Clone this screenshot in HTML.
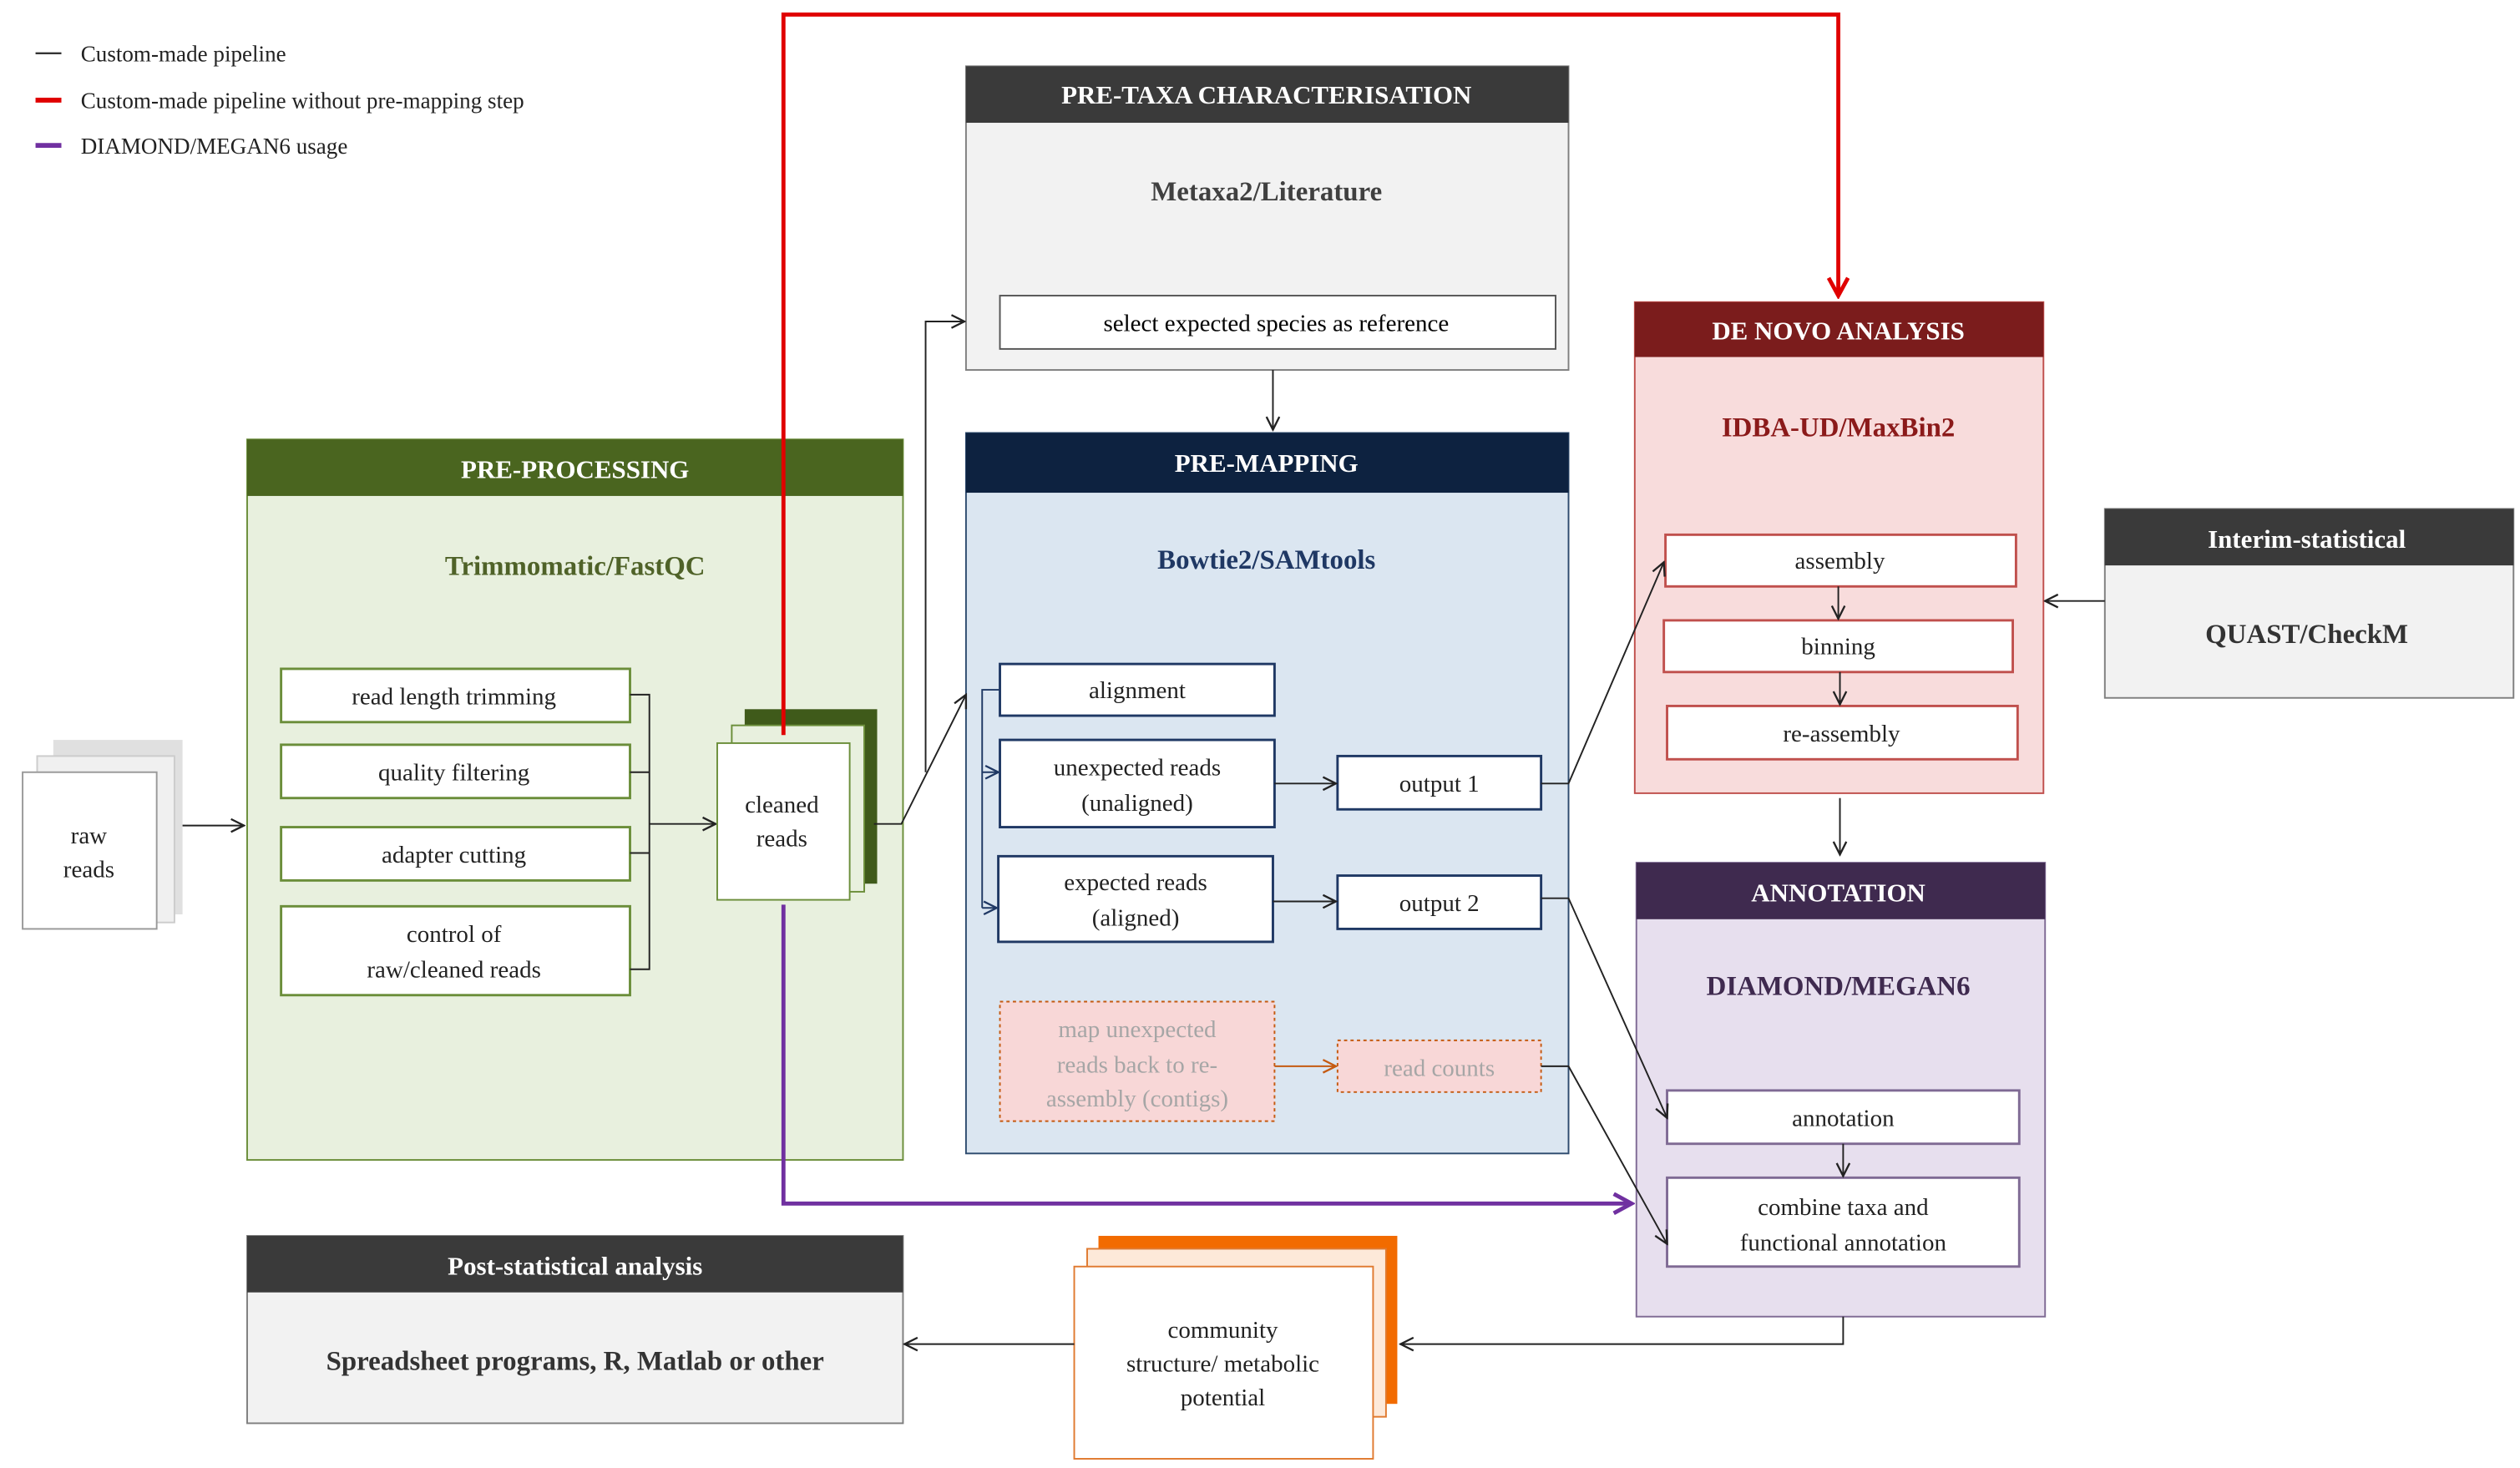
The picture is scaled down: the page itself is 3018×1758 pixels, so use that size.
<!DOCTYPE html>
<html><head><meta charset="utf-8"><style>html,body{margin:0;padding:0;background:#fff}svg{display:block}</style></head><body>
<svg width="3018" height="1758" viewBox="0 0 1560 908.7" preserveAspectRatio="none" xmlns="http://www.w3.org/2000/svg" font-family="Liberation Serif, serif">
<defs>
<marker id="a" markerWidth="10" markerHeight="10" refX="9" refY="5" orient="auto" markerUnits="userSpaceOnUse"><path d="M1,1 L9,5 L1,9" fill="none" stroke="#222" stroke-width="1.2"/></marker>
<marker id="an" markerWidth="10" markerHeight="10" refX="9" refY="5" orient="auto" markerUnits="userSpaceOnUse"><path d="M1,1 L9,5 L1,9" fill="none" stroke="#1f3864" stroke-width="1.2"/></marker>
<marker id="ao" markerWidth="10" markerHeight="10" refX="9" refY="5" orient="auto" markerUnits="userSpaceOnUse"><path d="M1,1 L9,5 L1,9" fill="none" stroke="#c55a11" stroke-width="1.2"/></marker>
<marker id="ar" markerWidth="14" markerHeight="14" refX="12" refY="7" orient="auto" markerUnits="userSpaceOnUse"><path d="M1,1 L12,7 L1,13" fill="none" stroke="#e00000" stroke-width="2.5"/></marker>
<marker id="ap" markerWidth="14" markerHeight="14" refX="12" refY="7" orient="auto" markerUnits="userSpaceOnUse"><path d="M1,1 L12,7 L1,13" fill="none" stroke="#7030a0" stroke-width="2.5"/></marker>
</defs>
<g font-size="14" fill="#222">
<line x1="22" y1="33" x2="38" y2="33" stroke="#333" stroke-width="1.2"/><text x="50" y="38">Custom-made  pipeline</text>
<line x1="22" y1="62" x2="38" y2="62" stroke="#e00000" stroke-width="3"/><text x="50" y="67">Custom-made  pipeline without pre-mapping  step</text>
<line x1="22" y1="90" x2="38" y2="90" stroke="#7030a0" stroke-width="3"/><text x="50" y="95">DIAMOND/MEGAN6  usage</text>
</g>
<g text-anchor="middle">
<rect x="598" y="41" width="373" height="188" fill="#f2f2f2" stroke="#7f7f7f"/>
<rect x="598" y="41" width="373" height="35" fill="#3a3a3a"/>
<text x="784" y="64" fill="#fff" font-weight="bold" font-size="16">PRE-TAXA CHARACTERISATION</text>
<text x="784" y="124" fill="#404040" font-weight="bold" font-size="17">Metaxa2/Literature</text>
<rect x="619" y="183" width="344" height="33" fill="#fff" stroke="#555"/>
<text x="790" y="205" font-size="15">select expected species as reference</text>
<line x1="788" y1="229" x2="788" y2="266" stroke="#222" marker-end="url(#a)"/>
<rect x="598" y="268" width="373" height="446" fill="#dbe6f1" stroke="#2e4b6e"/>
<rect x="598" y="268" width="373" height="37" fill="#0d2240"/>
<text x="784" y="292" fill="#fff" font-weight="bold" font-size="16">PRE-MAPPING</text>
<text x="784" y="352" fill="#1f3864" font-weight="bold" font-size="17">Bowtie2/SAMtools</text>
<g fill="#fff" stroke="#1f3864" stroke-width="1.5">
<rect x="619" y="411" width="170" height="32"/><rect x="619" y="458" width="170" height="54"/><rect x="618" y="530" width="170" height="53"/>
<rect x="828" y="468" width="126" height="33"/><rect x="828" y="542" width="126" height="33"/>
</g>
<g font-size="15" fill="#222">
<text x="704" y="432">alignment</text>
<text x="704" y="480">unexpected reads</text><text x="704" y="502">(unaligned)</text>
<text x="703" y="551">expected reads</text><text x="703" y="573">(aligned)</text>
<text x="891" y="490">output 1</text><text x="891" y="564">output 2</text>
</g>
<rect x="619" y="620" width="170" height="74" fill="#f8d7d7" stroke="#c55a11" stroke-dasharray="2,2"/>
<rect x="828" y="644" width="126" height="32" fill="#f8d7d7" stroke="#c55a11" stroke-dasharray="2,2"/>
<g font-size="15" fill="#a6a6a6">
<text x="704" y="642">map unexpected</text><text x="704" y="664">reads back to re-</text><text x="704" y="685">assembly (contigs)</text>
<text x="891" y="666">read counts</text>
</g>
<path d="M619,427 H608 V562" fill="none" stroke="#1f3864"/>
<line x1="608" y1="478" x2="618" y2="478" stroke="#1f3864" marker-end="url(#an)"/>
<line x1="608" y1="562" x2="617" y2="562" stroke="#1f3864" marker-end="url(#an)"/>
<line x1="789" y1="485" x2="827" y2="485" stroke="#222" marker-end="url(#a)"/>
<line x1="788" y1="558" x2="827" y2="558" stroke="#222" marker-end="url(#a)"/>
<line x1="789" y1="660" x2="827" y2="660" stroke="#c55a11" marker-end="url(#ao)"/>
<rect x="1012" y="187" width="253" height="304" fill="#f8dcdc" stroke="#c0504d"/>
<rect x="1012" y="187" width="253" height="34" fill="#7b1c1c"/>
<text x="1138" y="210" fill="#fff" font-weight="bold" font-size="16">DE NOVO ANALYSIS</text>
<text x="1138" y="270" fill="#8b1a1a" font-weight="bold" font-size="17">IDBA-UD/MaxBin2</text>
<g fill="#fff" stroke="#c0504d" stroke-width="1.5">
<rect x="1031" y="331" width="217" height="32"/><rect x="1030" y="384" width="216" height="32"/><rect x="1032" y="437" width="217" height="33"/>
</g>
<g font-size="15" fill="#222"><text x="1139" y="352">assembly</text><text x="1138" y="405">binning</text><text x="1140" y="459">re-assembly</text></g>
<line x1="1138" y1="363" x2="1138" y2="383" stroke="#222" marker-end="url(#a)"/>
<line x1="1139" y1="416" x2="1139" y2="436" stroke="#222" marker-end="url(#a)"/>
<rect x="1303" y="315" width="253" height="117" fill="#f2f2f2" stroke="#7f7f7f"/>
<rect x="1303" y="315" width="253" height="35" fill="#3a3a3a"/>
<text x="1428" y="339" fill="#fff" font-weight="bold" font-size="16">Interim-statistical</text>
<text x="1428" y="398" fill="#333" font-weight="bold" font-size="17">QUAST/CheckM</text>
<line x1="1303" y1="372" x2="1266" y2="372" stroke="#222" marker-end="url(#a)"/>
<line x1="1139" y1="494" x2="1139" y2="529" stroke="#222" marker-end="url(#a)"/>
<rect x="1013" y="534" width="253" height="281" fill="#e7dfee" stroke="#7f6a94"/>
<rect x="1013" y="534" width="253" height="35" fill="#3f2a4f"/>
<text x="1138" y="558" fill="#fff" font-weight="bold" font-size="16">ANNOTATION</text>
<text x="1138" y="616" fill="#3f2a4f" font-weight="bold" font-size="17">DIAMOND/MEGAN6</text>
<g fill="#fff" stroke="#7f6a94" stroke-width="1.5"><rect x="1032" y="675" width="218" height="33"/><rect x="1032" y="729" width="218" height="55"/></g>
<g font-size="15" fill="#222"><text x="1141" y="697">annotation</text><text x="1141" y="752">combine taxa and</text><text x="1141" y="774">functional annotation</text></g>
<line x1="1141" y1="708" x2="1141" y2="728" stroke="#222" marker-end="url(#a)"/>
<path d="M954,485 H971 L1030,348" fill="none" stroke="#222" marker-end="url(#a)"/>
<path d="M954,556 H971 L1032,692" fill="none" stroke="#222" marker-end="url(#a)"/>
<path d="M954,660 H971 L1032,770" fill="none" stroke="#222" marker-end="url(#a)"/>
<rect x="153" y="272" width="406" height="446" fill="#e8f0de" stroke="#6b8e3a"/>
<rect x="153" y="272" width="406" height="35" fill="#4a651f"/>
<text x="356" y="296" fill="#fff" font-weight="bold" font-size="16">PRE-PROCESSING</text>
<text x="356" y="356" fill="#4f6228" font-weight="bold" font-size="17">Trimmomatic/FastQC</text>
<g fill="#fff" stroke="#6b8e3a" stroke-width="1.5">
<rect x="174" y="414" width="216" height="33"/><rect x="174" y="461" width="216" height="33"/><rect x="174" y="512" width="216" height="33"/><rect x="174" y="561" width="216" height="55"/>
</g>
<g font-size="15" fill="#222"><text x="281" y="436">read length trimming</text><text x="281" y="483">quality filtering</text><text x="281" y="534">adapter cutting</text><text x="281" y="583">control of</text><text x="281" y="605">raw/cleaned reads</text></g>
<path d="M390,430 H402 V600 H390 M390,478 H402 M390,528 H402" fill="none" stroke="#222"/>
<line x1="402" y1="510" x2="443" y2="510" stroke="#222" marker-end="url(#a)"/>
<rect x="461" y="439" width="82" height="108" fill="#3f5a1a"/>
<rect x="453" y="449" width="82" height="103" fill="#e8f0de" stroke="#6b8e3a"/>
<rect x="444" y="460" width="82" height="97" fill="#fff" stroke="#6b8e3a"/>
<text x="484" y="503" font-size="15" fill="#222">cleaned</text><text x="484" y="524" font-size="15" fill="#222">reads</text>
<path d="M541,510 H558 L598,430" fill="none" stroke="#222" marker-end="url(#a)"/>
<path d="M573,478 V199 H597" fill="none" stroke="#222" marker-end="url(#a)"/>
<rect x="33" y="458" width="80" height="108" fill="#e0e0e0"/>
<rect x="23" y="468" width="85" height="103" fill="#f0f0f0" stroke="#ccc"/>
<rect x="14" y="478" width="83" height="97" fill="#fff" stroke="#999"/>
<text x="55" y="522" font-size="15" fill="#222">raw</text><text x="55" y="543" font-size="15" fill="#222">reads</text>
<line x1="113" y1="511" x2="151" y2="511" stroke="#222" marker-end="url(#a)"/>
<rect x="153" y="765" width="406" height="116" fill="#f2f2f2" stroke="#7f7f7f"/>
<rect x="153" y="765" width="406" height="35" fill="#3a3a3a"/>
<text x="356" y="789" fill="#fff" font-weight="bold" font-size="16">Post-statistical analysis</text>
<text x="356" y="848" fill="#333" font-weight="bold" font-size="17">Spreadsheet programs, R, Matlab or other</text>
<rect x="680" y="765" width="185" height="104" fill="#f26b00"/>
<rect x="673" y="773" width="185" height="104" fill="#fde9d9" stroke="#e07a30"/>
<rect x="665" y="784" width="185" height="119" fill="#fff" stroke="#e07a30"/>
<g font-size="15" fill="#222"><text x="757" y="828">community</text><text x="757" y="849">structure/ metabolic</text><text x="757" y="870">potential</text></g>
<line x1="665" y1="832" x2="560" y2="832" stroke="#222" marker-end="url(#a)"/>
<path d="M1141,815 V832 H867" fill="none" stroke="#222" marker-end="url(#a)"/>
<path d="M485,455 V9 H1138 V183" fill="none" stroke="#e00000" stroke-width="2.5" marker-end="url(#ar)"/>
<path d="M485,560 V745 H1010" fill="none" stroke="#7030a0" stroke-width="2.5" marker-end="url(#ap)"/>
</g>
</svg>
</body></html>
